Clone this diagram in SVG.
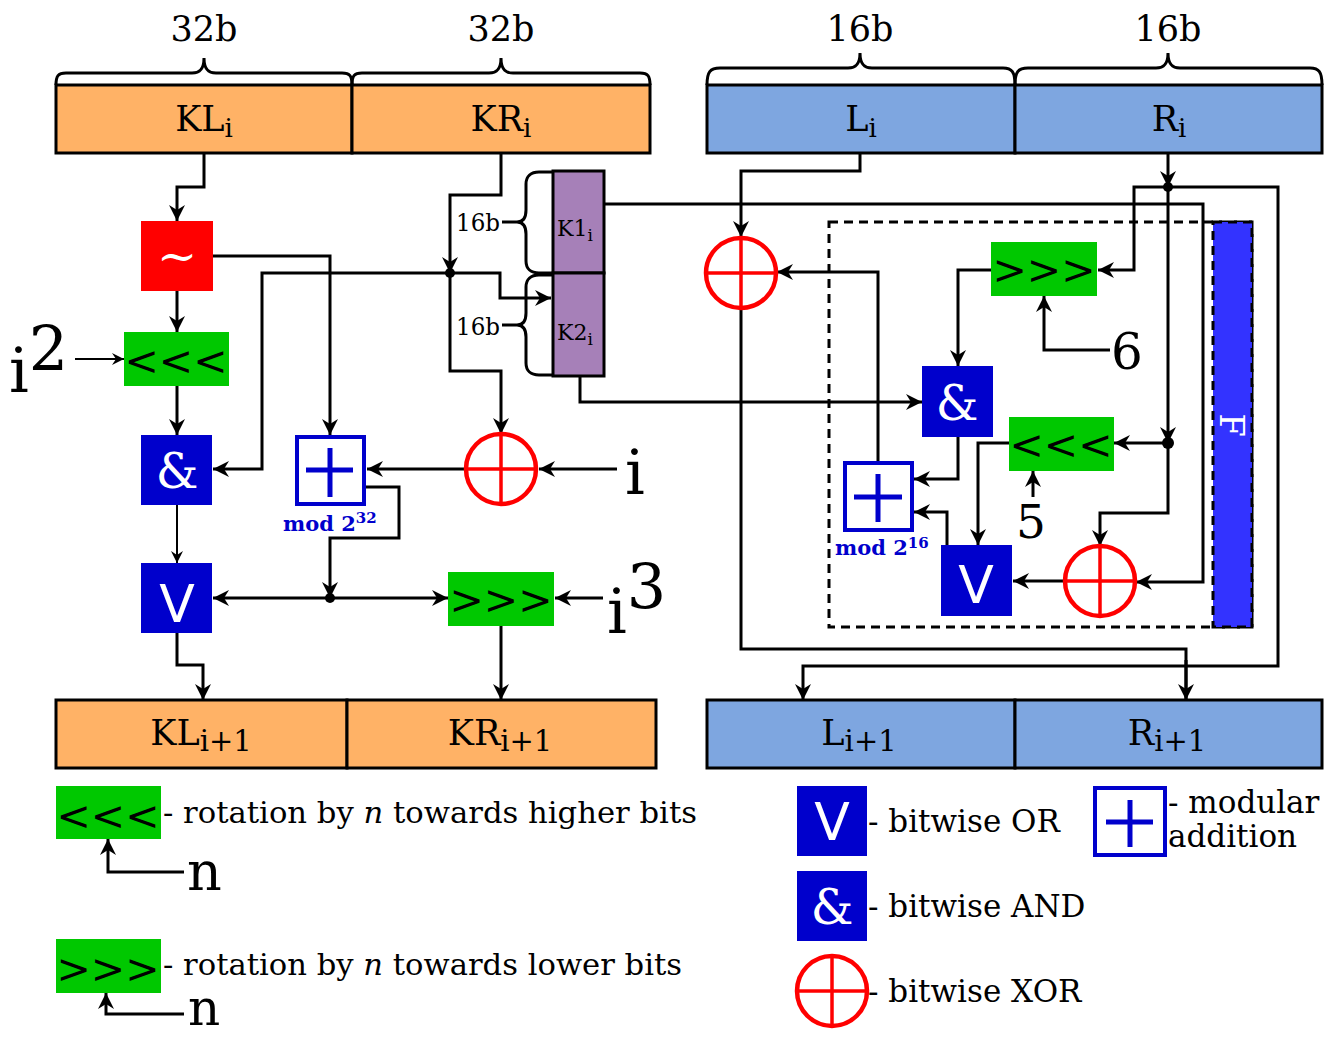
<svg xmlns="http://www.w3.org/2000/svg" width="1333" height="1037" viewBox="0 0 1333 1037">
<defs>
<style>
.ln{fill:none;stroke:#000;stroke-width:3;stroke-linejoin:miter}
.thin{fill:none;stroke:#000;stroke-width:2}
.a{marker-end:url(#ah)}
.as{marker-end:url(#ahs)}
.reg{stroke:#000;stroke-width:3}
.orange{fill:#ffb266}
.lblue{fill:#7ea6e0}
.purple{fill:#a680b8;stroke:#000;stroke-width:3}
.green{fill:#00c800}
.dblue{fill:#0000cc}
.red{fill:#ff0000}
.modadd{fill:#fff;stroke:#0000cc;stroke-width:4}
.plus{stroke:#0000cc;stroke-width:5}
.xor{fill:#fff;stroke:#ff0000;stroke-width:4.5}
.xorc{stroke:#ff0000;stroke-width:3.5}
.brace{fill:none;stroke:#000;stroke-width:3}
.serif{font-family:'DejaVu Serif','Liberation Serif',serif;fill:#000}
.sans{font-family:'DejaVu Sans','Liberation Sans',sans-serif}
.lbl{font-size:35px;text-anchor:middle}
.rot{font-family:'DejaVu Sans','Liberation Sans',sans-serif;font-size:41px;fill:#000;text-anchor:middle}
.wamp{font-family:'DejaVu Serif',serif;font-size:48px;fill:#fff;text-anchor:middle}
.wv{font-family:'DejaVu Sans',sans-serif;font-size:52px;fill:#fff;text-anchor:middle}
.big{font-size:62px}
.mod{font-family:'DejaVu Serif',serif;font-weight:bold;font-size:21px;fill:#0000cc}
.leg{font-size:31px}
</style>
<marker id="ah" viewBox="-17 -9 18 18" markerWidth="18" markerHeight="18" refX="0" refY="0" orient="auto" markerUnits="userSpaceOnUse">
<path d="M0,0 L-16,-8 L-11,0 L-16,8 Z" fill="#000"/>
</marker>
<marker id="ahs" viewBox="-13 -7 14 14" markerWidth="14" markerHeight="14" refX="0" refY="0" orient="auto" markerUnits="userSpaceOnUse">
<path d="M0,0 L-12,-6 L-8,0 L-12,6 Z" fill="#000"/>
</marker>
</defs>
<rect width="1333" height="1037" fill="#fff"/>

<!-- size labels and braces -->
<g id="sizes">
<text class="serif lbl" x="204" y="41">32b</text>
<text class="serif lbl" x="501" y="41">32b</text>
<text class="serif lbl" x="860" y="41">16b</text>
<text class="serif lbl" x="1168" y="41">16b</text>
<path class="brace" d="M56,85 C56,76 58,73 66,73 L192,73 C199,73 204,70 204,58 C204,70 209,73 216,73 L342,73 C350,73 352,76 352,85"/>
<path class="brace" d="M352,85 C352,76 354,73 362,73 L489,73 C496,73 501,70 501,58 C501,70 506,73 513,73 L640,73 C648,73 650,76 650,85"/>
<path class="brace" d="M707,85 C707,72 710,68 720,68 L848,68 C855,68 860,65 860,53 C860,65 865,68 872,68 L1003,68 C1012,68 1015,72 1015,85"/>
<path class="brace" d="M1015,85 C1015,72 1018,68 1028,68 L1156,68 C1163,68 1168,65 1168,53 C1168,65 1173,68 1180,68 L1310,68 C1319,68 1322,72 1322,85"/>
</g>

<!-- dashed F region -->
<g id="F">
<rect x="829" y="222" width="423" height="405" fill="none" stroke="#000" stroke-width="3" stroke-dasharray="9,6"/>
<rect x="1213" y="222" width="39" height="405" fill="#3333ff" stroke="#000" stroke-width="3" stroke-dasharray="9,6"/>
<text transform="translate(1220,425) rotate(90)" font-family="'DejaVu Serif',serif" font-size="34" fill="#fff" text-anchor="middle">F</text>
</g>

<g id="connectors">
<!-- left key schedule -->
<polyline class="ln a" points="204,153 204,187 177,187 177,221"/>
<polyline class="ln a" points="177,291 177,332"/>
<polyline class="ln a" points="177,386 177,435"/>
<polyline class="thin as" points="177,505 177,563"/>
<polyline class="ln a" points="177,633 177,665 203,665 203,700"/>
<polyline class="ln a" points="213,256 330,256 330,435"/>
<polyline class="ln a" points="501,153 501,195 450,195 450,273"/>
<polyline class="ln a" points="450,273 500,273 500,298 551,298"/>
<polyline class="ln a" points="450,273 262,273 262,469 213,469"/>
<polyline class="ln a" points="450,273 450,371 501,371 501,434"/>
<polyline class="ln a" points="466,469 367,469"/>
<polyline class="ln a" points="617,469 539,469"/>
<polyline class="ln a" points="366,487 399,487 399,538 330,538 330,598"/>
<polyline class="ln a" points="330,598 213,598"/>
<polyline class="ln a" points="330,598 448,598"/>
<polyline class="ln a" points="603,598 555,598"/>
<polyline class="ln a" points="501,626 501,700"/>
<polyline class="thin as" points="75,359 124,359"/>
<circle cx="450" cy="273" r="5"/>
<circle cx="330" cy="598" r="5"/>
<!-- K1 / K2 -->
<polyline class="ln a" points="604,204 1203,204 1203,582 1136,582"/>
<polyline class="ln a" points="580,376 580,402 922,402"/>
<!-- right data path -->
<polyline class="ln a" points="860,153 860,171 741,171 741,237"/>
<polyline class="ln" points="741,309 741,649 1186,649 1186,700"/>
<polyline class="ln a" points="1186,660 1186,700"/>
<polyline class="ln a" points="1168,153 1168,187"/>
<polyline class="ln a" points="1168,187 1134,187 1134,270 1098,270"/>
<polyline class="ln a" points="1168,187 1278,187 1278,666 803,666 803,700"/>
<polyline class="ln a" points="1168,187 1168,443"/>
<polyline class="ln a" points="1168,443 1114,443"/>
<polyline class="ln a" points="1168,443 1168,513 1100,513 1100,546"/>
<polyline class="ln a" points="991,270 958,270 958,366"/>
<polyline class="ln a" points="1110,350 1044,350 1044,296"/>
<polyline class="ln a" points="958,437 958,479 914,479"/>
<polyline class="ln a" points="1009,443 978,443 978,545"/>
<polyline class="ln a" points="1033,497 1033,471"/>
<polyline class="ln a" points="947,545 947,512 914,512"/>
<polyline class="ln a" points="1065,581 1013,581"/>
<polyline class="ln a" points="878,461 878,272 777,272"/>
<circle cx="1168" cy="187" r="5"/>
<circle cx="1168" cy="443" r="6"/>
<!-- legend arrows -->
<polyline class="ln a" points="184,872 108,872 108,839"/>
<polyline class="ln a" points="184,1014 106,1014 106,993"/>
</g>

<!-- top registers -->
<g id="KLi"><rect class="orange reg" x="56" y="85" width="296" height="68"/>
<text class="serif lbl" x="204" y="131">KL<tspan font-size="26" dy="6">i</tspan></text></g>
<g id="KRi"><rect class="orange reg" x="352" y="85" width="298" height="68"/>
<text class="serif lbl" x="501" y="131">KR<tspan font-size="26" dy="6">i</tspan></text></g>
<g id="Li"><rect class="lblue reg" x="707" y="85" width="308" height="68"/>
<text class="serif lbl" x="861" y="131">L<tspan font-size="26" dy="6">i</tspan></text></g>
<g id="Ri"><rect class="lblue reg" x="1015" y="85" width="307" height="68"/>
<text class="serif lbl" x="1169" y="131">R<tspan font-size="26" dy="6">i</tspan></text></g>

<!-- bottom registers -->
<g id="KLi1"><rect class="orange reg" x="56" y="700" width="291" height="68"/>
<text class="serif lbl" x="201" y="745">KL<tspan font-size="29" dy="6">i+1</tspan></text></g>
<g id="KRi1"><rect class="orange reg" x="347" y="700" width="309" height="68"/>
<text class="serif lbl" x="500" y="745">KR<tspan font-size="29" dy="6">i+1</tspan></text></g>
<g id="Li1"><rect class="lblue reg" x="707" y="700" width="308" height="68"/>
<text class="serif lbl" x="859" y="745">L<tspan font-size="29" dy="6">i+1</tspan></text></g>
<g id="Ri1"><rect class="lblue reg" x="1015" y="700" width="307" height="68"/>
<text class="serif lbl" x="1167" y="745">R<tspan font-size="29" dy="6">i+1</tspan></text></g>

<!-- K1 K2 -->
<g id="K1"><rect class="purple" x="553" y="171" width="51" height="102"/>
<text class="serif" x="557" y="236" font-size="22">K1<tspan font-size="17" dy="5">i</tspan></text></g>
<g id="K2"><rect class="purple" x="553" y="273" width="51" height="103"/>
<text class="serif" x="557" y="340" font-size="22">K2<tspan font-size="17" dy="5">i</tspan></text></g>
<g id="kbraces">
<path class="brace" d="M553,172 L539,172 C531,172 526,176 526,184 L526,210 C526,218 523,222 517,222 C523,222 526,226 526,234 L526,261 C526,269 531,273 539,273 L553,273"/>
<path class="brace" d="M553,275 L539,275 C531,275 526,279 526,287 L526,313 C526,321 523,325 517,325 C523,325 526,329 526,337 L526,363 C526,371 531,375 539,375 L553,375"/>
<line class="brace" x1="502" y1="222" x2="517" y2="222"/>
<line class="brace" x1="502" y1="325" x2="517" y2="325"/>
<text class="serif" x="456" y="231" font-size="24" textLength="44" lengthAdjust="spacingAndGlyphs">16b</text>
<text class="serif" x="456" y="335" font-size="24" textLength="44" lengthAdjust="spacingAndGlyphs">16b</text>
</g>

<!-- left operations -->
<g id="not"><rect class="red" x="141" y="221" width="72" height="70"/>
<text x="177" y="273" font-family="'DejaVu Serif',serif" font-size="48" fill="#fff" text-anchor="middle">~</text></g>
<g id="rotl1"><rect class="green" x="124" y="332" width="105" height="54"/>
<text class="rot" x="176" y="375">&lt;&lt;&lt;</text></g>
<g id="and1"><rect class="dblue" x="141" y="435" width="71" height="70"/>
<text class="wamp" x="177" y="488">&amp;</text></g>
<g id="or1"><rect class="dblue" x="141" y="563" width="71" height="70"/>
<text class="wv" x="177" y="622">V</text></g>
<g id="add1"><rect class="modadd" x="297" y="437" width="67" height="67"/>
<line class="plus" x1="330" y1="448" x2="330" y2="497"/><line class="plus" x1="306" y1="470" x2="353" y2="470"/>
<text class="mod" x="283" y="531">mod 2<tspan font-size="15" dy="-8">32</tspan></text></g>
<g id="xor1"><circle class="xor" cx="501" cy="469" r="35"/>
<line class="xorc" x1="501" y1="434" x2="501" y2="504"/><line class="xorc" x1="466" y1="469" x2="536" y2="469"/></g>
<g id="rotr1"><rect class="green" x="448" y="572" width="106" height="54"/>
<text class="rot" x="501" y="614">&gt;&gt;&gt;</text></g>
<g id="labels-left" class="serif">
<text class="serif big" x="9" y="392">i<tspan dy="-22">2</tspan></text>
<text class="serif big" x="625" y="494">i</text>
<text class="serif big" x="607" y="633">i<tspan dy="-25">3</tspan></text>
</g>

<!-- right operations -->
<g id="xor2"><circle class="xor" cx="741" cy="273" r="35"/>
<line class="xorc" x1="741" y1="238" x2="741" y2="308"/><line class="xorc" x1="706" y1="273" x2="776" y2="273"/></g>
<g id="rotr2"><rect class="green" x="991" y="242" width="106" height="54"/>
<text class="rot" x="1044" y="284">&gt;&gt;&gt;</text></g>
<g id="and2"><rect class="dblue" x="922" y="366" width="71" height="71"/>
<text class="wamp" x="957" y="420">&amp;</text></g>
<g id="rotl2"><rect class="green" x="1009" y="417" width="105" height="54"/>
<text class="rot" x="1061" y="459">&lt;&lt;&lt;</text></g>
<g id="add2"><rect class="modadd" x="845" y="463" width="67" height="67"/>
<line class="plus" x1="878" y1="474" x2="878" y2="522"/><line class="plus" x1="854" y1="497" x2="902" y2="497"/>
<text class="mod" x="835" y="555">mod 2<tspan font-size="15" dy="-7">16</tspan></text></g>
<g id="or2"><rect class="dblue" x="941" y="545" width="71" height="71"/>
<text class="wv" x="976" y="603">V</text></g>
<g id="xor3"><circle class="xor" cx="1100" cy="581" r="35"/>
<line class="xorc" x1="1100" y1="546" x2="1100" y2="616"/><line class="xorc" x1="1065" y1="581" x2="1135" y2="581"/></g>
<g id="labels-right">
<text class="serif" x="1111" y="369" font-size="50">6</text>
<text class="serif" x="1016" y="538" font-size="47">5</text>
</g>

<!-- legend -->
<g id="legend-rotl"><rect class="green" x="56" y="786" width="105" height="53"/>
<text class="rot" x="108" y="830">&lt;&lt;&lt;</text>
<text class="serif" x="163" y="823" font-size="30" textLength="534" lengthAdjust="spacingAndGlyphs">- rotation by <tspan font-style="italic">n</tspan> towards higher bits</text>
<text class="serif" x="187" y="890" font-size="54">n</text></g>
<g id="legend-rotr"><rect class="green" x="56" y="939" width="105" height="54"/>
<text class="rot" x="108" y="983">&gt;&gt;&gt;</text>
<text class="serif" x="163" y="975" font-size="30" textLength="519" lengthAdjust="spacingAndGlyphs">- rotation by <tspan font-style="italic">n</tspan> towards lower bits</text>
<text class="serif" x="188" y="1025" font-size="50">n</text></g>
<g id="legend-or"><rect class="dblue" x="797" y="786" width="70" height="70"/>
<text class="wv" x="832" y="840">V</text>
<text class="serif leg" x="868" y="832">- bitwise OR</text></g>
<g id="legend-and"><rect class="dblue" x="797" y="871" width="70" height="70"/>
<text class="wamp" x="832" y="924">&amp;</text>
<text class="serif leg" x="868" y="917">- bitwise AND</text></g>
<g id="legend-xor"><circle class="xor" cx="832" cy="991" r="35"/>
<line class="xorc" x1="832" y1="956" x2="832" y2="1026"/><line class="xorc" x1="797" y1="991" x2="867" y2="991"/>
<text class="serif leg" x="868" y="1002">- bitwise XOR</text></g>
<g id="legend-add"><rect class="modadd" x="1095" y="788" width="70" height="67"/>
<line class="plus" x1="1130" y1="800" x2="1130" y2="847"/><line class="plus" x1="1106" y1="822" x2="1153" y2="822"/>
<text class="serif leg" x="1168" y="813">- modular</text>
<text class="serif leg" x="1168" y="847">addition</text></g>
</svg>
